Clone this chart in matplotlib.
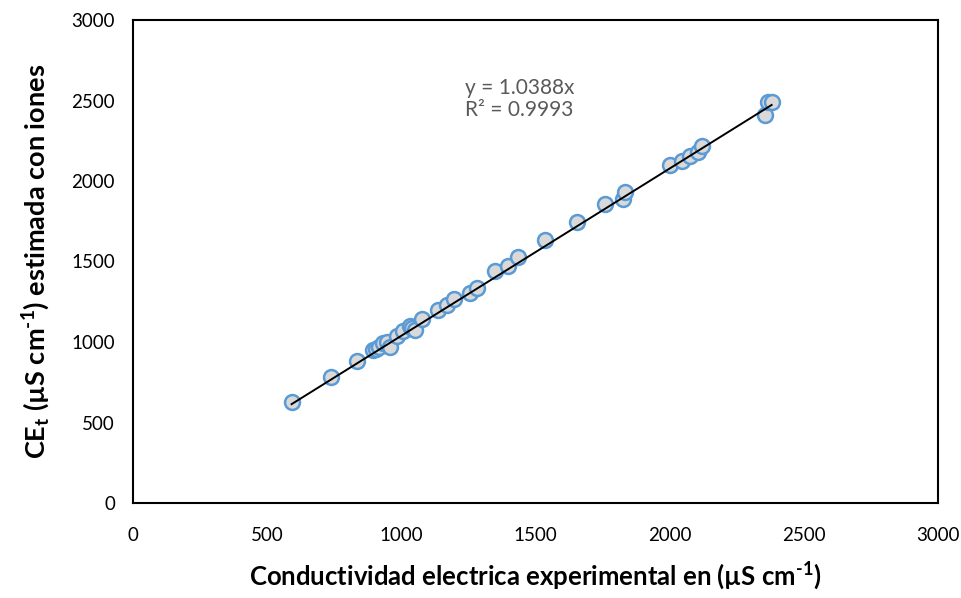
import matplotlib
matplotlib.use("Agg")
import matplotlib.pyplot as plt
import numpy as np

# Data
ce_exp = [591, 737, 836, 895, 905, 918, 933, 945, 958, 983, 1007, 1032, 1040, 1051,
          1076, 1138, 1169, 1197, 1256, 1281, 1349, 1398, 1436, 1535, 1653, 1759,
          1827, 1833, 2001, 2045, 2076, 2107, 2119, 2355, 2367, 2380]
ce_ion = [628, 780, 880, 949, 957, 967, 992, 1002, 972, 1036, 1068, 1101, 1088, 1076,
          1143, 1197, 1227, 1266, 1306, 1336, 1441, 1475, 1527, 1631, 1748, 1860,
          1891, 1931, 2100, 2125, 2153, 2183, 2220, 2413, 2490, 2492]
slope = 1.0388
r2 = 0.9993

x_ticks = [0, 500, 1000, 1500, 2000, 2500, 3000]
y_ticks = [0, 500, 1000, 1500, 2000, 2500, 3000]

plt.rcParams['font.family'] = ['Lato', 'DejaVu Sans']
plt.rcParams['mathtext.fontset'] = 'custom'
plt.rcParams['mathtext.rm'] = 'Lato:bold'
plt.rcParams['mathtext.it'] = 'Lato:bold'
plt.rcParams['mathtext.bf'] = 'Lato:bold'

fig = plt.figure(figsize=(9.62, 5.98), dpi=100)
ax = fig.add_axes([133/962, 1-503/598, (938-133)/962, (503-20)/598])

ax.scatter(ce_exp, ce_ion, s=115, facecolor='#D9D9D9', edgecolor='#5B9BD5',
           linewidth=1.8, zorder=3)
xl = np.array([min(ce_exp), max(ce_exp)])
ax.plot(xl, slope*xl, color='black', linewidth=1.4, zorder=4)

ax.set_xlim(0, 3000)
ax.set_ylim(0, 3000)
ax.set_xticks(x_ticks)
ax.set_yticks(y_ticks)
ax.tick_params(length=0, labelsize=13.5, colors='#000000')
ax.tick_params(axis='x', pad=17)
ax.tick_params(axis='y', pad=13)
for s in ax.spines.values():
    s.set_linewidth(1.5)
    s.set_color('black')

ax.set_xlabel(r'Conductividad electrica experimental en (µS cm$^{\text{-1}}$)',
              fontsize=18.5, fontweight='bold', labelpad=12)
ax.set_ylabel(r'CE$_{\text{t}}$ (µS cm$^{\text{-1}}$) estimada con iones',
              fontsize=19.5, fontweight='bold', labelpad=14)

ax.text(1237, 2509, f'y = {slope}x\nR² = {r2}', fontsize=15, color='#595959',
        ha='left', va='center', linespacing=1.15)

fig.savefig('out.png', dpi=100)
